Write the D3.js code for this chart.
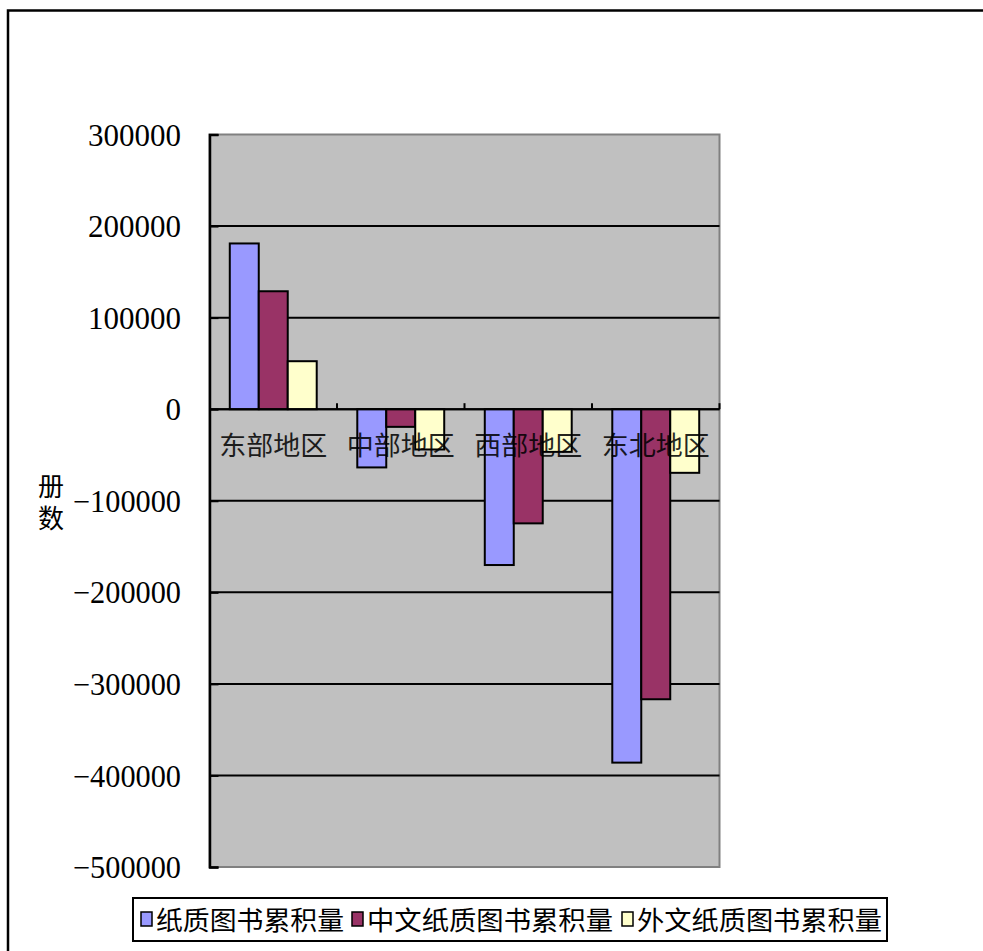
<!DOCTYPE html>
<html>
<head>
  <meta charset="utf-8">
  <title></title>
<style>
  body { margin: 0; background: #fff; }
  svg text { font-family: "Liberation Serif", "DejaVu Serif", "Noto Sans CJK SC", serif; fill: #000; }
  .tick-label { font-size: 31px; }
  .cat-label { font-size: 26px; }
  .legend-label { font-size: 26px; }
</style>
</head>
<body>
<svg width="983" height="951"></svg>
<script src="https://d3js.org/d3.v7.min.js"></script>
<script>

// data
var regions = ["东部地区", "中部地区", "西部地区", "东北地区"];
var seriesNames = ["纸质图书累积量", "中文纸质图书累积量", "外文纸质图书累积量"];
var paperTotal = [181000, -63600, -170200, -386000];
var paperChinese = [128800, -19300, -124700, -316800];
var paperForeign = [52400, -44000, -46600, -69500];
var yTicks = [300000, 200000, 100000, 0, -100000, -200000, -300000, -400000, -500000];
var colors = ["#9999FF", "#993366", "#FFFFCC"];

var svg = d3.select("svg");

// outer frame
svg.append("rect")
    .attr("x", 8).attr("y", 10.5)
    .attr("width", 1000).attr("height", 1000)
    .attr("fill", "none").attr("stroke", "#000").attr("stroke-width", 2.5);

var plot = { left: 209.5, right: 719.5, top: 134.5, bottom: 867 };

var y = d3.scaleLinear()
    .domain([-500000, 300000])
    .range([plot.bottom, plot.top]);

var x0 = d3.scaleBand()
    .domain(regions)
    .range([plot.left, plot.right])
    .padding(0);

var x1 = d3.scaleBand()
    .domain(d3.range(seriesNames.length))
    .range([0, x0.bandwidth()])
    .paddingInner(0)
    .paddingOuter(0.7);

// plot background
svg.append("rect")
    .attr("x", plot.left).attr("y", plot.top)
    .attr("width", plot.right - plot.left)
    .attr("height", plot.bottom - plot.top)
    .attr("fill", "#C0C0C0")
    .attr("stroke", "#808080").attr("stroke-width", 2);

// gridlines
svg.append("g")
    .selectAll("line")
    .data(yTicks.filter(function(d) { return d !== 300000 && d !== -500000; }))
    .enter().append("line")
      .attr("x1", plot.left).attr("x2", plot.right)
      .attr("y1", function(d) { return y(d); })
      .attr("y2", function(d) { return y(d); })
      .attr("stroke", "#000").attr("stroke-width", 2);

// bars
var table = [];
var allSeries = [paperTotal, paperChinese, paperForeign];
regions.forEach(function(r, i) {
  allSeries.forEach(function(s, j) {
    table.push({ region: r, series: j, value: s[i] });
  });
});

svg.append("g")
    .selectAll("rect")
    .data(table)
    .enter().append("rect")
      .attr("x", function(d) { return x0(d.region) + x1(d.series); })
      .attr("width", x1.bandwidth())
      .attr("y", function(d) { return Math.min(y(d.value), y(0)); })
      .attr("height", function(d) { return Math.abs(y(d.value) - y(0)); })
      .attr("fill", function(d) { return colors[d.series]; })
      .attr("stroke", "#000").attr("stroke-width", 2);

// y axis
var yAxis = d3.axisLeft(y)
    .tickValues(yTicks)
    .tickSize(-9)
    .tickFormat("");
var ya = svg.append("g")
    .attr("transform", "translate(" + plot.left + ",0)")
    .call(yAxis);
ya.select(".domain").attr("stroke", "#000").attr("stroke-width", 2.5);
ya.selectAll(".tick line").attr("stroke", "#000").attr("stroke-width", 2);

svg.append("g")
    .selectAll("text")
    .data(yTicks)
    .enter().append("text")
      .attr("class", "tick-label")
      .attr("font-family", "Liberation Serif, DejaVu Serif, serif")
      .attr("x", 181)
      .attr("y", function(d) { return y(d); })
      .attr("dy", "0.36em")
      .attr("text-anchor", "end")
      .attr("textLength", function(d) { return d === 0 ? null : (d < 0 ? 108 : 93); })
      .attr("lengthAdjust", "spacingAndGlyphs")
      .text(function(d) { return d < 0 ? "\u2212" + Math.abs(d) : d; });

// category axis on zero line
svg.append("line")
    .attr("x1", plot.left).attr("x2", plot.right)
    .attr("y1", y(0)).attr("y2", y(0))
    .attr("stroke", "#000").attr("stroke-width", 2);

svg.append("g")
    .selectAll("line")
    .data(regions)
    .enter().append("line")
      .attr("x1", function(d) { return x0(d) + x0.bandwidth(); })
      .attr("x2", function(d) { return x0(d) + x0.bandwidth(); })
      .attr("y1", y(0)).attr("y2", y(0) - 6)
      .attr("stroke", "#000").attr("stroke-width", 2);

svg.append("g")
    .selectAll("text")
    .data(regions)
    .enter().append("text")
      .attr("class", "cat-label")
      .attr("x", function(d) { return x0(d) + x0.bandwidth() / 2; })
      .attr("y", 455)
      .attr("text-anchor", "middle")
      .attr("textLength", 108)
      .attr("lengthAdjust", "spacingAndGlyphs")
      .style("opacity", 0.85)
      .text(function(d) { return d; });

// axis title (vertical)
var title = svg.append("text")
    .attr("class", "cat-label")
    .attr("text-anchor", "middle");
title.append("tspan").attr("x", 51).attr("y", 496).text("册");
title.append("tspan").attr("x", 51).attr("y", 528).text("数");

// legend
var legend = svg.append("g");
legend.append("rect")
    .attr("x", 133).attr("y", 898)
    .attr("width", 754).attr("height", 43)
    .attr("fill", "#fff")
    .attr("stroke", "#000").attr("stroke-width", 2);

var legendX = [141, 352, 622];
var legendW = [188, 246, 245];
var items = legend.selectAll("g.item")
    .data(seriesNames)
    .enter().append("g")
      .attr("class", "item")
      .attr("transform", function(d, i) { return "translate(" + legendX[i] + ",912)"; });
items.append("rect")
    .attr("width", 11).attr("height", 14)
    .attr("fill", function(d, i) { return colors[i]; })
    .attr("stroke", "#000").attr("stroke-width", 1.5);
items.append("text")
    .attr("class", "legend-label")
    .attr("x", 15)
    .attr("y", 18)
    .attr("textLength", function(d, i) { return legendW[i]; })
    .attr("lengthAdjust", "spacingAndGlyphs")
    .text(function(d) { return d; });

</script>
</body>
</html>
